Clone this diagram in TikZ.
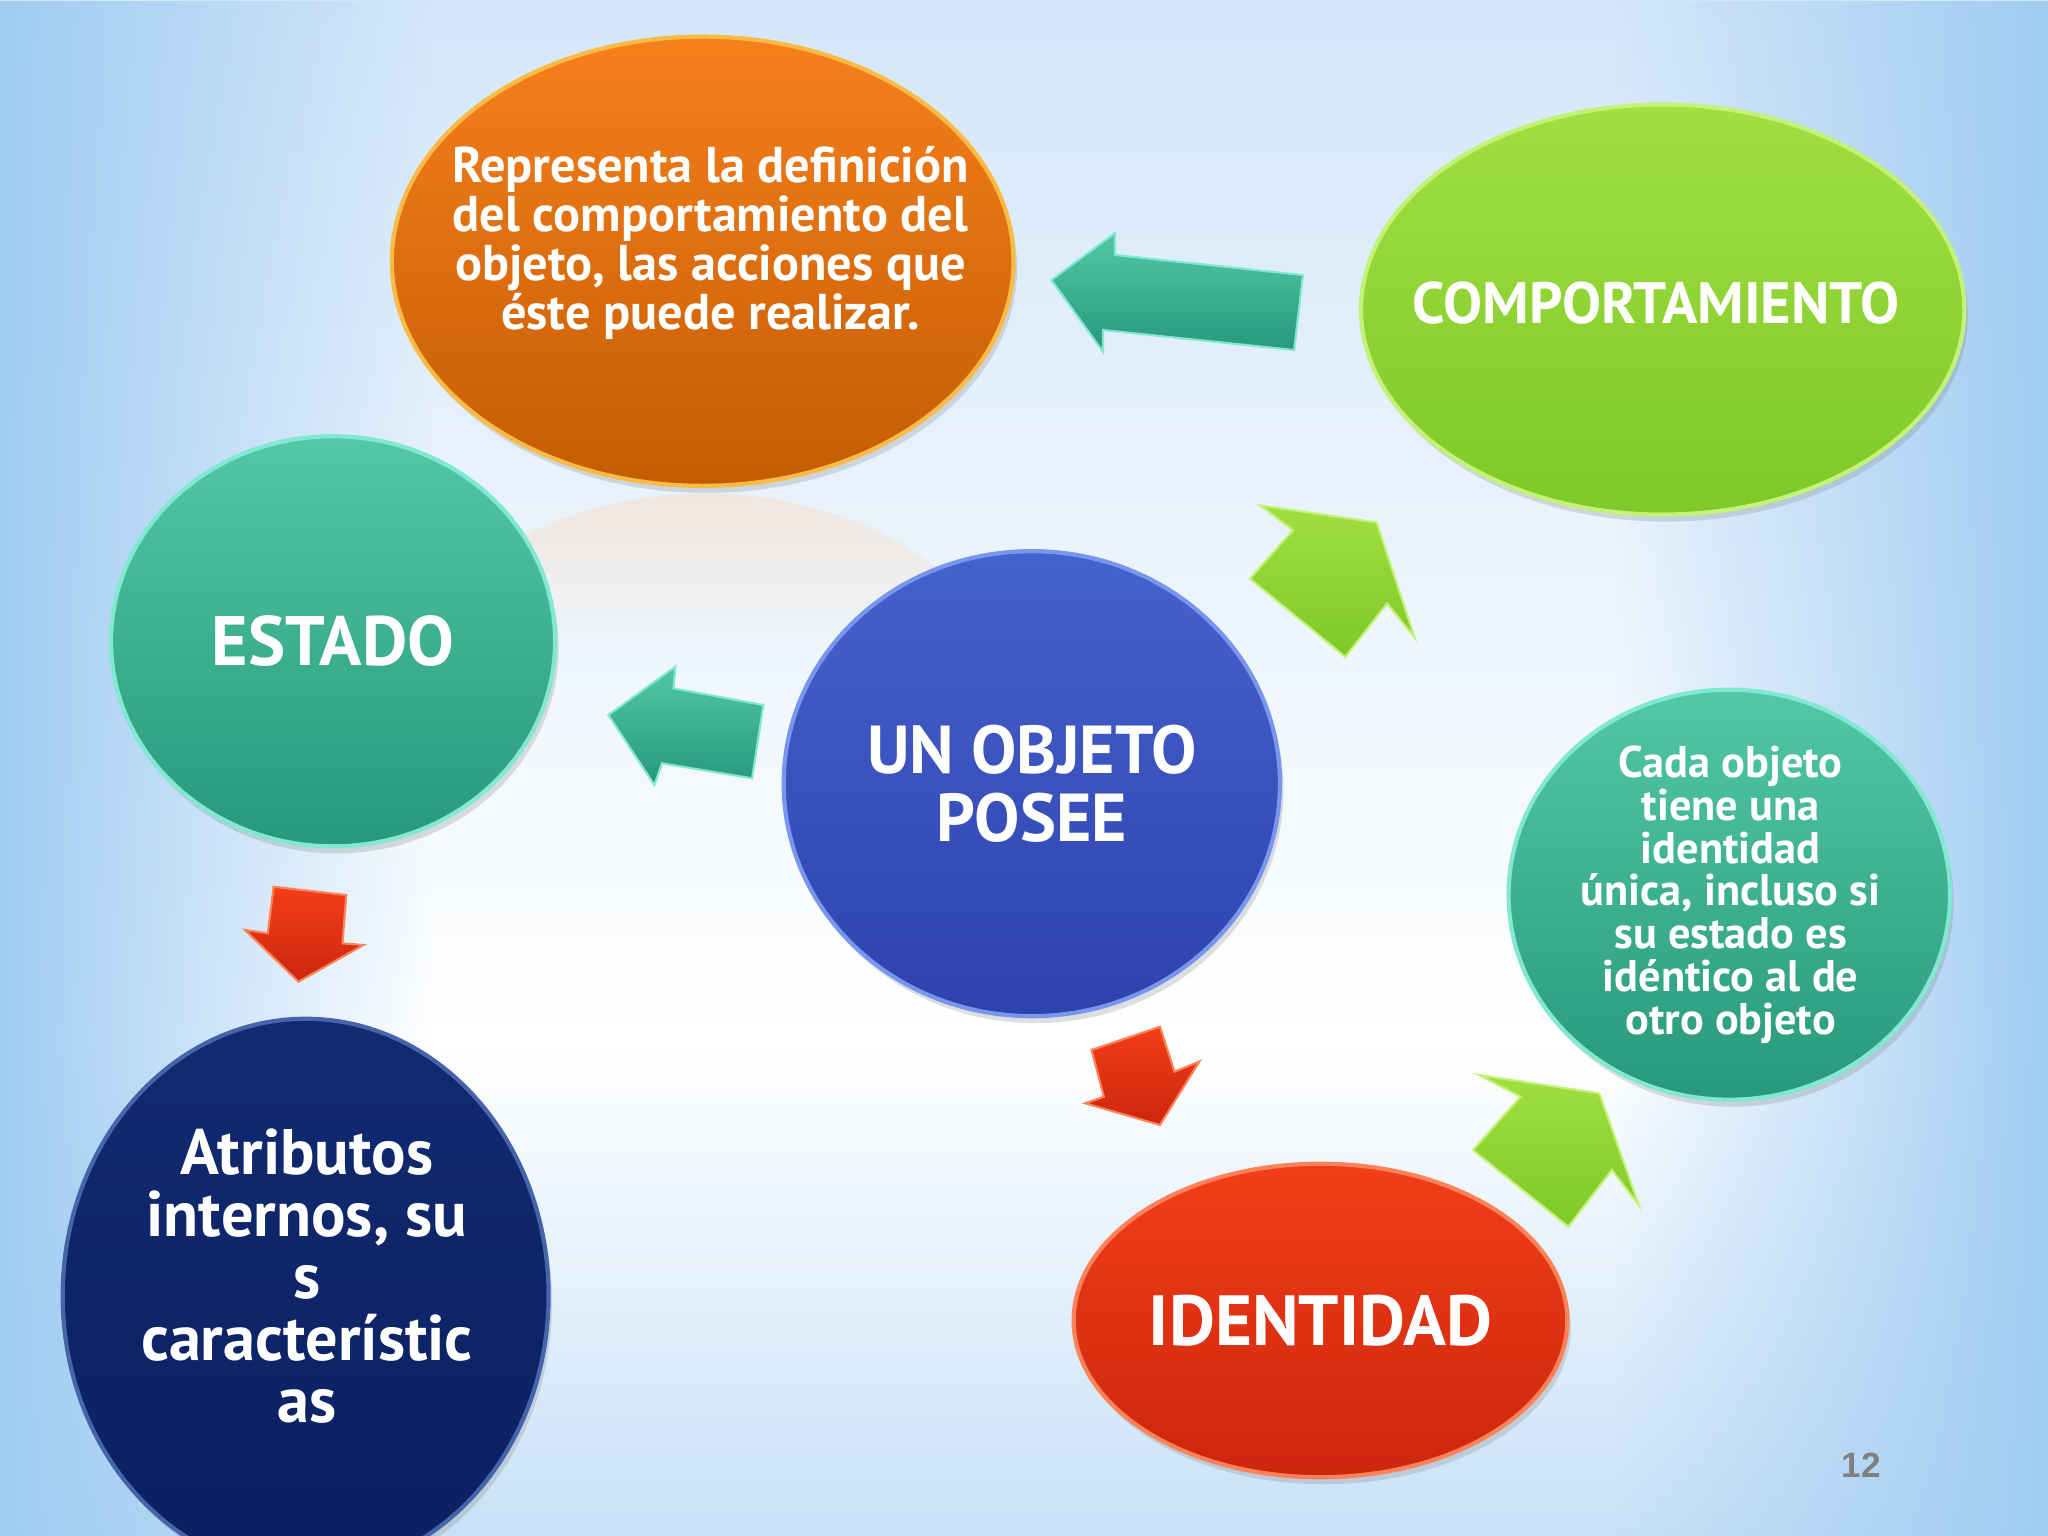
\documentclass[tikz,border=0pt]{standalone}
\usepackage{fontspec}
\setmainfont{PT Sans}
\newfontfamily\pagefont{Liberation Sans}
\usetikzlibrary{shapes.geometric,fadings,shadows}

\definecolor{bgedge}{RGB}{160,204,242}
\definecolor{bgtop}{RGB}{212,231,249}
\definecolor{bgbottom}{RGB}{200,225,247}
\definecolor{orangetop}{RGB}{246,128,28}
\definecolor{orangebot}{RGB}{196,92,4}
\definecolor{orangerim}{RGB}{250,186,70}
\definecolor{greentop}{RGB}{160,224,64}
\definecolor{greenbot}{RGB}{126,200,40}
\definecolor{greenrim}{RGB}{196,242,120}
\definecolor{tealtop}{RGB}{82,200,166}
\definecolor{tealbot}{RGB}{40,152,122}
\definecolor{tealrim}{RGB}{130,232,210}
\definecolor{bluetop}{RGB}{70,98,206}
\definecolor{bluebot}{RGB}{46,66,174}
\definecolor{bluerim}{RGB}{120,150,236}
\definecolor{navytop}{RGB}{18,42,112}
\definecolor{navybot}{RGB}{10,32,98}
\definecolor{navyrim}{RGB}{70,100,170}
\definecolor{redtop}{RGB}{242,62,24}
\definecolor{redbot}{RGB}{204,38,14}
\definecolor{redrim}{RGB}{252,130,90}
\definecolor{pagegrey}{RGB}{128,128,128}

\begin{document}
\begin{tikzpicture}
  [x=0.013061cm,y=-0.013061cm,
   bubble/.style={shape=ellipse,inner sep=0pt,text=white,align=center,line width=1.2pt,
     drop shadow={shadow xshift=1pt,shadow yshift=-2pt,opacity=0.25}},
   bubbletext/.style={text=white,align=center},
   tealarrow/.style={top color=tealtop,bottom color=tealbot,draw=tealrim,line width=0.6pt},
   greenarrow/.style={top color=greentop,bottom color=greenbot,draw=greenrim,line width=0.6pt},
   redarrow/.style={top color=redtop,bottom color=redbot,draw=redrim,line width=0.6pt}]

  \useasboundingbox (0,0) rectangle (1568,1176);
  \shade[top color=bgtop,bottom color=white] (0,0) rectangle (1568,800);
  \shade[top color=white,bottom color=bgbottom] (0,800) rectangle (1568,1176);
  \fill[bgedge,path fading=east] (0,0) rectangle (330,1176);
  \fill[bgedge,path fading=west] (1238,0) rectangle (1568,1176);
  \begin{scope}
    \clip (540,550) ellipse [x radius=238,y radius=172];
    \fill[orangetop!30,opacity=0.45,path fading=south] (300,378) rectangle (780,500);
  \end{scope}

  \node[bubble,top color=orangetop,bottom color=orangebot,draw=orangerim,
        minimum width=6.217cm,minimum height=4.493cm] (definicion) at (538,200) {};
  \node[bubbletext,font=\bfseries\fontsize{14.3}{13.9}\selectfont] (definiciontxt) at (544,186)
        {Representa la definición\\del comportamiento del\\objeto, las acciones que\\éste puede realizar.};
  \node[bubble,top color=greentop,bottom color=greenbot,draw=greenrim,
        minimum width=6.034cm,minimum height=4.101cm] (comportamiento) at (1273,237) {};
  \node[bubbletext,font=\bfseries\fontsize{16.6}{18}\selectfont] (comportamientotxt) at (1268,232) {COMPORTAMIENTO};
  \node[bubble,top color=tealtop,bottom color=tealbot,draw=tealrim,
        minimum width=4.441cm,minimum height=4.101cm,
        font=\bfseries\fontsize{19.9}{22}\selectfont] (estado) at (255,491) {ESTADO};
  \node[bubble,top color=bluetop,bottom color=bluebot,draw=bluerim,
        minimum width=4.963cm,minimum height=4.650cm,
        font=\bfseries\fontsize{19.3}{19.3}\selectfont] (objeto) at (790,600) {UN OBJETO\\POSEE};
  \node[bubble,top color=tealtop,bottom color=tealbot,draw=tealrim,
        minimum width=4.415cm,minimum height=4.101cm] (unica) at (1324,685) {};
  \node[bubbletext,font=\bfseries\fontsize{12.6}{12.2}\selectfont] (unicatxt) at (1325,685)
        {Cada objeto\\tiene una\\identidad\\única, incluso si\\su estado es\\idéntico al de\\otro objeto};
  \node[bubble,top color=navytop,bottom color=navybot,draw=navyrim,
        minimum width=4.859cm,minimum height=5.538cm] (atributos) at (234,992) {};
  \node[bubbletext,font=\bfseries\fontsize{18.3}{17.6}\selectfont] (atributostxt) at (235,977)
        {Atributos\\internos, su\\s\\característic\\as};
  \node[bubble,top color=redtop,bottom color=redbot,draw=redrim,
        minimum width=4.937cm,minimum height=3.135cm,
        font=\bfseries\fontsize{20.2}{22}\selectfont] (identidad) at (1011,1011) {IDENTIDAD};

  \path[tealarrow] (997.6,210.6) -- (853.7,195.2) -- (853.7,178.4) -- (805,214.4)
        -- (844.5,269.3) -- (844.5,252.7) -- (990.8,268) -- cycle;
  \path[tealarrow] (584.5,539.8) -- (515.6,527) -- (517.1,510.4) -- (465.8,547.4)
        -- (501,601) -- (506.9,584.4) -- (575.8,595.9) -- cycle;
  \path[greenarrow] (957,443) -- (990,406) -- (965,387) -- (1054,400)
        -- (1083,488) -- (1062,462) -- (1030,503) -- cycle;
  \path[greenarrow] (1127.7,880.5) -- (1164.2,839.7) -- (1132.5,823.1) -- (1224.5,837.1)
        -- (1254.7,922.6) -- (1234.1,895.8) -- (1200.7,939.2) -- cycle;
  \path[redarrow] (209.5,678.9) -- (265.1,685.3) -- (262.2,722.3) -- (278.3,723.5)
        -- (228.5,751.6) -- (187.5,712) -- (205,714.6) -- cycle;
  \path[redarrow] (835.7,803.9) -- (888.1,786.1) -- (899.2,820.5) -- (918.2,812.8)
        -- (888.1,861.3) -- (830.9,844.7) -- (845.2,839.7) -- cycle;

  \node[text=pagegrey,font=\pagefont\bfseries\fontsize{10}{12}\selectfont] (pagina) at (1425,1122) {12};
\end{tikzpicture}
\end{document}
